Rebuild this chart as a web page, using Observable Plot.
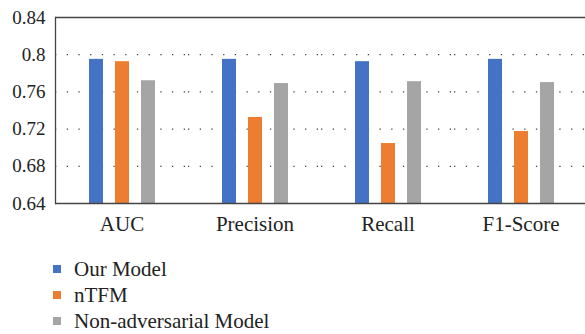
<!DOCTYPE html>
<html>
<head>
<meta charset="utf-8">
<script src="https://cdn.jsdelivr.net/npm/d3@7"></script>
<script src="https://cdn.jsdelivr.net/npm/@observablehq/plot@0.6"></script>
<style>
  html, body { margin: 0; padding: 0; background: #fff; overflow: hidden; }
  #chart svg { display: block; }
  .legend { margin-left: 53px; margin-top: 17px; font-family: "Liberation Serif", serif; font-size: 21px; color: #222; }
  .legend .row { display: flex; align-items: center; height: 24px; margin-bottom: 2px; line-height: 24px; }
  .legend .row:last-child { margin-bottom: 0; }
  .legend .sw { width: 8px; height: 8px; margin-right: 13px; }
</style>
</head>
<body>
<div id="chart"></div>
<script>
const metrics = ["AUC", "Precision", "Recall", "F1-Score"];
const seriesNames = ["Our Model", "nTFM", "Non-adversarial Model"];
const ourModel = [0.795, 0.795, 0.7925, 0.795];
const nTFM = [0.7925, 0.7325, 0.7045, 0.7175];
const nonAdversarial = [0.772, 0.769, 0.771, 0.770];
const colors = ["#4472C4", "#ED7D31", "#A5A5A5"];
const yTicks = [0.64, 0.68, 0.72, 0.76, 0.8, 0.84];
const gridTicks = [0.68, 0.72, 0.76, 0.8];

const seriesValues = [ourModel, nTFM, nonAdversarial];
const rows = [];
metrics.forEach((m, i) => seriesNames.forEach((s, j) => rows.push({metric: m, series: s, value: seriesValues[j][i]})));

const chart = Plot.plot({
  width: 585,
  height: 240,
  marginLeft: 54,
  marginRight: 0,
  marginTop: 17,
  marginBottom: 37,
  style: {fontFamily: "Liberation Serif, serif", fontSize: "19px", color: "#222", background: "#fff"},
  y: {domain: [0.64, 0.84], label: null},
  fx: {domain: metrics, padding: 0, label: null, range: [54, 587]},
  x: {domain: seriesNames, paddingInner: 0.472, paddingOuter: 1.245, axis: null},
  color: {domain: seriesNames, range: colors},
  marks: [
    Plot.ruleY(gridTicks, {stroke: "#444", strokeWidth: 1.3, strokeDasharray: "1.3 10.4"}),
    Plot.barY(rows, {fx: "metric", x: "series", y1: 0.64, y2: "value", fill: "series"}),
    Plot.ruleY([0.64, 0.84], {stroke: "#444", strokeWidth: 1.5}),
    Plot.frame({anchor: "left", facetAnchor: "left", stroke: "#444", strokeWidth: 1.3}),
    Plot.axisY({ticks: yTicks, tickSize: 0, tickPadding: 10, tickFormat: d => String(+d.toFixed(2)), label: null}),
    Plot.axisFx({anchor: "bottom", tickSize: 0, tickPadding: 13, label: null, fontSize: 21})
  ]
});
document.getElementById("chart").appendChild(chart);

const legend = document.createElement("div");
legend.className = "legend";
seriesNames.forEach((s, j) => {
  const row = document.createElement("div");
  row.className = "row";
  const sw = document.createElement("span");
  sw.className = "sw";
  sw.style.background = colors[j];
  const t = document.createElement("span");
  t.textContent = s;
  row.appendChild(sw);
  row.appendChild(t);
  legend.appendChild(row);
});
document.body.appendChild(legend);
</script>
</body>
</html>
